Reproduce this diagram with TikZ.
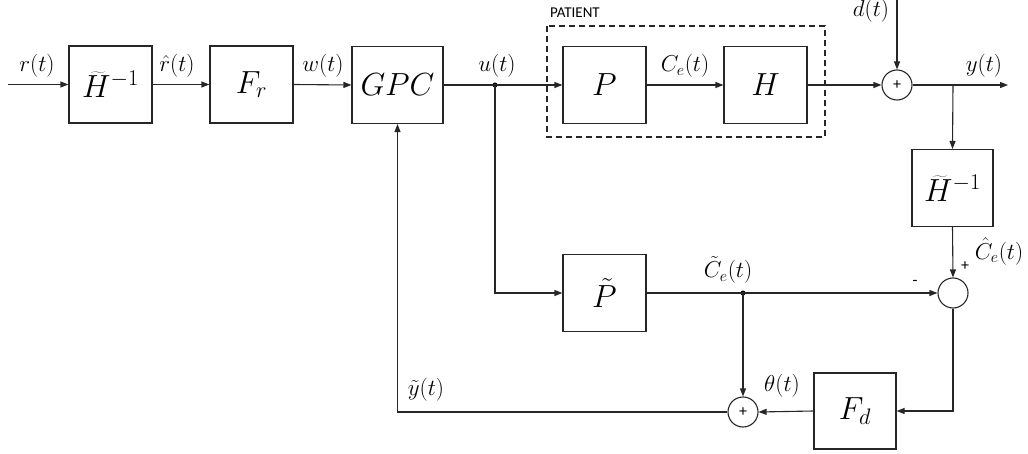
\RequirePackage{fix-cm}
\documentclass[tikz,border=0pt]{standalone}
\usepackage{fontspec}
\newfontfamily\calib{Carlito}
\usetikzlibrary{arrows.meta}
\begin{document}
\begin{tikzpicture}[x=1pt,y=-1pt,
  line width=1.1pt,
  ln/.style={draw=black!85},
  blk/.style={draw=black!85,line width=1.1pt,minimum width=83pt,minimum height=77pt,inner sep=0pt,font=\fontsize{32}{36}\selectfont},
  sumc/.style={circle,draw=black!85,line width=1.1pt,minimum size=30pt,inner sep=0pt,font=\calib\fontsize{16}{16}\selectfont},
  lbl/.style={inner sep=0pt,font=\fontsize{23}{26}\selectfont},
  arr/.style={ln,-{Triangle[length=8pt,width=6pt]}},
  dotc/.style={circle,fill=black,inner sep=0pt,minimum size=5pt}
]
\useasboundingbox (0,0) rectangle (1028,454);
% blocks
\node[blk] (H1) at (110.5,84.5) {$\widetilde{H}^{-1}$};
\node[blk] (Fr) at (251.5,84.5) {$F_r$};
\node[blk,minimum width=91pt] (GPC) at (397.5,85) {$GPC$};
\node[blk] (P) at (604.5,85) {$P$};
\node[blk] (H) at (765.5,85) {$H$};
\node[blk,minimum width=81pt] (H2) at (952.5,188) {$\widetilde{H}^{-1}$};
\node[blk] (Pt) at (604.5,293) {$\tilde{P}$};
\node[blk,minimum width=82pt,minimum height=76pt] (Fd) at (855,411) {$F_d$};
% sums
\node[sumc] (S1) at (897,85) {+};
\node[sumc] (D) at (953,293) {};
\node[sumc] (S2) at (743,412) {+};
% patient box
\draw[ln,dash pattern=on 6pt off 4pt] (547,26) rectangle (825,137);
\node[font=\calib\fontsize{15}{16}\selectfont,inner sep=0pt] (pat) at (575,13) {PATIENT};
% coordinates
\coordinate (rin) at (8,84.5);
\coordinate (dtop) at (897,0);
\coordinate (yout) at (1008,85);
\coordinate (yb) at (953,85);
\node[dotc] (ud) at (495,85) {};
\node[dotc] (cd) at (743,293) {};
% connectors
\draw[arr] (rin) -- (H1.west);
\draw[arr] (H1.east) -- (Fr.west);
\draw[arr] (Fr.east) -- (GPC.west);
\draw[arr] (GPC.east) -- (P.west);
\draw[arr] (P.east) -- (H.west);
\draw[arr] (H.east) -- (S1.west);
\draw[arr] (dtop) -- (S1.north);
\draw[arr] (S1.east) -- (yout);
\draw[arr] (yb) -- (H2.north);
\draw[arr] (H2.south) -- (D.north);
\draw[arr] (ud.center) |- (Pt.west);
\draw[arr] (Pt.east) -- (D.west);
\draw[arr] (cd.center) -- (S2.north);
\draw[arr] (D.south) |- (Fd.east);
\draw[arr] (Fd.west) -- (S2.east);
\draw[arr] (S2.west) -| (GPC.south);
% labels
\node[lbl] (lr) at (37,66) {$r(t)$};
\node[lbl] (lrh) at (177,66) {$\hat{r}(t)$};
\node[lbl] (lw) at (323,66) {$w(t)$};
\node[lbl] (lu) at (497,66) {$u(t)$};
\node[lbl] (lce) at (685,66) {$C_e(t)$};
\node[lbl] (ld) at (871,11) {$d(t)$};
\node[lbl] (ly) at (984,66) {$y(t)$};
\node[lbl] (lch) at (999,251) {$\hat{C}_e(t)$};
\node[lbl] (lct) at (728,270) {$\tilde{C}_e(t)$};
\node[lbl] (lyt) at (426,390) {$\tilde{y}(t)$};
\node[lbl] (lth) at (782,386) {$\theta(t)$};
\node[font=\calib\fontsize{16}{16}\selectfont,inner sep=0pt] (lp) at (965,266) {+};
\node[font=\calib\fontsize{16}{16}\selectfont,inner sep=0pt] (lm) at (915,283) {-};
\end{tikzpicture}
\end{document}
